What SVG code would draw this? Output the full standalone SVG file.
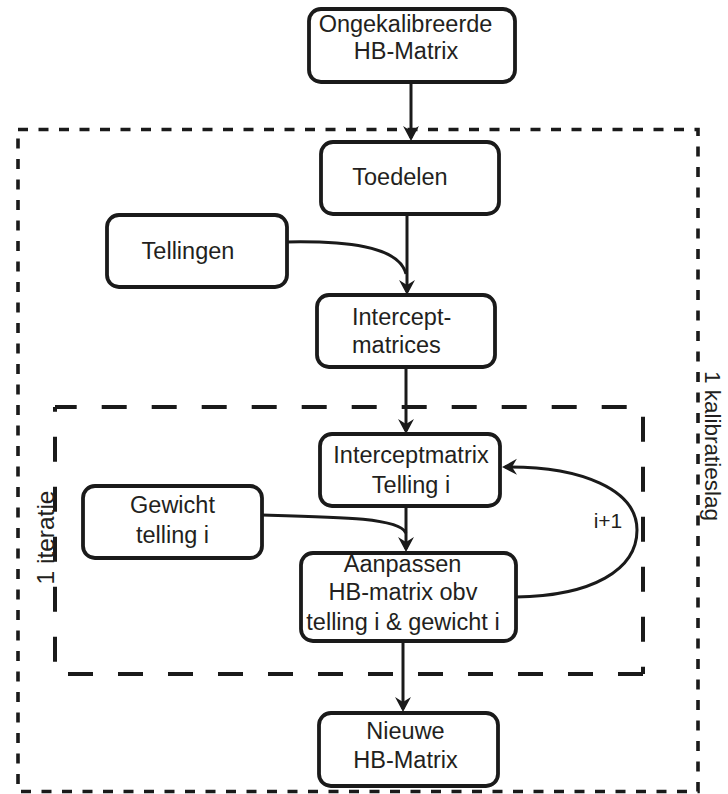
<svg xmlns="http://www.w3.org/2000/svg" width="728" height="794" viewBox="0 0 728 794">
<style>
.box{fill:#fff;stroke:#1a1a1a;stroke-width:3.8}
.t{font-family:"Liberation Sans",Arial,sans-serif;font-size:23.5px;fill:#231f20;text-anchor:middle}
.ts{text-anchor:start}
.ln{fill:none;stroke:#1a1a1a;stroke-width:3}
.outer{fill:none;stroke:#1a1a1a;stroke-width:3.6;stroke-dasharray:10 10.5}
.inner{fill:none;stroke:#1a1a1a;stroke-width:4;stroke-dasharray:25 25}
</style>
<defs>
<marker id="ah" markerUnits="userSpaceOnUse" markerWidth="16" markerHeight="18" viewBox="0 0 16 18" refX="12" refY="9" orient="auto">
<path d="M0,1 L15,9 L0,17 L5,9 Z" fill="#1a1a1a"/>
</marker>
</defs>
<rect width="728" height="794" fill="#fff"/>

<g id="frames">
<rect class="outer" x="18" y="129.5" width="680" height="662"/>
<path class="inner" d="M55,407 H643" stroke-dashoffset="3.3"/>
<path class="inner" d="M643,407 V674" stroke-dashoffset="40.3"/>
<path class="inner" d="M643,674 H55"/>
<path class="inner" d="M55,674 V407" stroke-dashoffset="37.7"/>
<text class="t" transform="translate(53.5,537.5) rotate(-90)" style="font-size:24.5px">1 iteratie</text>
<text class="t" transform="translate(705,446) rotate(90)" style="font-size:22.5px">1 kalibratieslag</text>
</g>

<g id="connectors">
<path class="ln" d="M411,82 V138" marker-end="url(#ah)"/>
<path class="ln" d="M407,214 V292" marker-end="url(#ah)"/>
<path class="ln" d="M287,242 C342,241 399,245 406,274"/>
<path class="ln" d="M406,367 V431" marker-end="url(#ah)"/>
<path class="ln" d="M406,506 V549" marker-end="url(#ah)"/>
<path class="ln" d="M262,515 C340,517 399,518 406,533"/>
<path class="ln" d="M516,597 C592,596 637,570 637,530 C637,490 582,466 505,467" marker-end="url(#ah)"/>
<path class="ln" d="M403,641 V709" marker-end="url(#ah)"/>
<text class="t" x="608" y="528" style="font-size:21px">i+1</text>
</g>

<g id="n_ongekalibreerde">
<rect class="box" x="309" y="9" width="206" height="73" rx="12"/>
<text class="t" x="405.5" y="32">Ongekalibreerde</text>
<text class="t" x="406" y="59">HB-Matrix</text>
</g>
<g id="n_toedelen">
<rect class="box" x="321" y="142" width="178" height="72" rx="12"/>
<text class="t" x="400" y="185">Toedelen</text>
</g>
<g id="n_tellingen">
<rect class="box" x="107" y="215" width="180" height="72" rx="12"/>
<text class="t" x="188" y="259">Tellingen</text>
</g>
<g id="n_interceptmatrices">
<rect class="box" x="317" y="295" width="178" height="72" rx="12"/>
<text class="t ts" x="352" y="325">Intercept-</text>
<text class="t ts" x="352" y="353">matrices</text>
</g>
<g id="n_interceptmatrix">
<rect class="box" x="320" y="434" width="180" height="72" rx="12"/>
<text class="t" x="411" y="463">Interceptmatrix</text>
<text class="t" x="411" y="493">Telling i</text>
</g>
<g id="n_gewicht">
<rect class="box" x="83" y="486" width="179" height="72" rx="12"/>
<text class="t" x="172.5" y="513">Gewicht</text>
<text class="t" x="172.5" y="543">telling i</text>
</g>
<g id="n_aanpassen">
<rect class="box" x="301" y="553" width="215" height="88" rx="12"/>
<text class="t" x="402.5" y="572">Aanpassen</text>
<text class="t" x="403" y="600">HB-matrix obv</text>
<text class="t" x="403" y="630">telling i &amp; gewicht i</text>
</g>
<g id="n_nieuwe">
<rect class="box" x="319" y="713" width="179" height="73" rx="12"/>
<text class="t" x="405.5" y="739">Nieuwe</text>
<text class="t" x="405.5" y="768">HB-Matrix</text>
</g>
</svg>
